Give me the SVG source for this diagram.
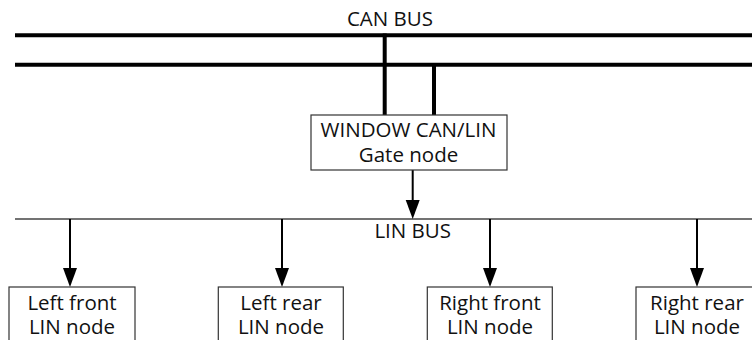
<svg xmlns="http://www.w3.org/2000/svg" width="752" height="340" viewBox="0 0 752 340">
  <style>
    .label { font-family: "Open Sans", "Noto Sans", "Liberation Sans", sans-serif; font-size: 20.5px; fill: #111; text-anchor: middle; }
    .box { fill: #fff; stroke: #333; stroke-width: 1.2; }
    .can { stroke: #000; stroke-width: 4; fill: none; }
    .lin { stroke: #444; stroke-width: 1.6; fill: none; }
    .stem { stroke: #000; stroke-width: 2; fill: none; }
    .head { fill: #000; }
  </style>
  <rect width="752" height="340" fill="#fff"/>

  <!-- bus lines and connectors -->
  <g id="connectors">
    <line class="can" x1="15" y1="35.3" x2="752" y2="35.3"/>
    <line class="can" x1="15" y1="64.7" x2="752" y2="64.7"/>
    <line class="can" x1="384.7" y1="33.5" x2="384.7" y2="115"/>
    <line class="can" x1="434" y1="63" x2="434" y2="115"/>
    <line class="lin" x1="15" y1="219" x2="752" y2="219"/>
    <line class="stem" x1="412.7" y1="170" x2="412.7" y2="205"/>
    <path class="head" d="M405.7,200 L419.7,200 L412.7,219 Z"/>
    <line class="stem" x1="70" y1="219" x2="70" y2="272"/>
    <path class="head" d="M63,268 L77,268 L70,287 Z"/>
    <line class="stem" x1="282" y1="219" x2="282" y2="272"/>
    <path class="head" d="M275,268 L289,268 L282,287 Z"/>
    <line class="stem" x1="490" y1="219" x2="490" y2="272"/>
    <path class="head" d="M483,268 L497,268 L490,287 Z"/>
    <line class="stem" x1="697" y1="219" x2="697" y2="272"/>
    <path class="head" d="M690,268 L704,268 L697,287 Z"/>
  </g>

  <text class="label" x="390" y="26">CAN BUS</text>
  <text class="label" x="412.7" y="238">LIN BUS</text>

  <g id="gate">
    <rect class="box" x="311" y="115" width="196" height="55"/>
    <text class="label" x="408.5" y="136.7">WINDOW CAN/LIN<tspan x="408.5" dy="24.8">Gate node</tspan></text>
  </g>

  <g id="left-front">
    <rect class="box" x="9" y="287" width="126" height="60"/>
    <text class="label" x="72" y="309.5">Left front<tspan x="72" dy="24.5">LIN node</tspan></text>
  </g>

  <g id="left-rear">
    <rect class="box" x="218.3" y="287" width="125" height="60"/>
    <text class="label" x="281" y="309.5">Left rear<tspan x="281" dy="24.5">LIN node</tspan></text>
  </g>

  <g id="right-front">
    <rect class="box" x="427.3" y="287" width="125" height="60"/>
    <text class="label" x="490" y="309.5">Right front<tspan x="490" dy="24.5">LIN node</tspan></text>
  </g>

  <g id="right-rear">
    <rect class="box" x="636" y="287" width="125" height="60"/>
    <text class="label" x="697" y="309.5">Right rear<tspan x="697" dy="24.5">LIN node</tspan></text>
  </g>
</svg>
